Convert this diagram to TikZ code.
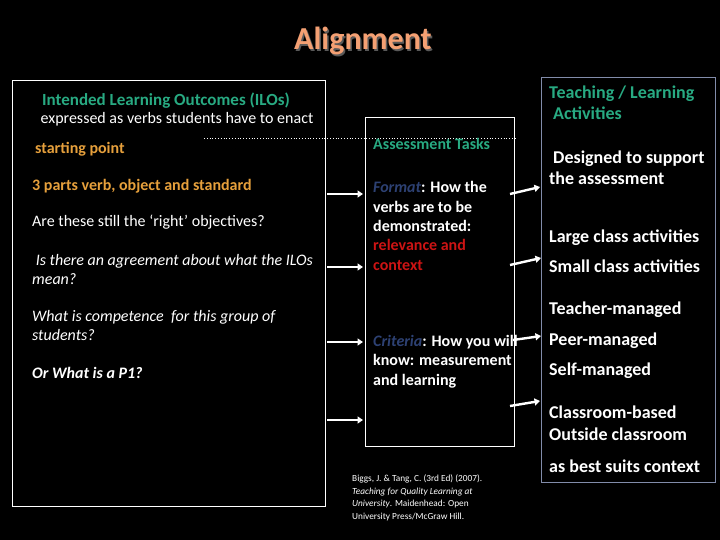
\documentclass[tikz,border=0pt]{standalone}
\usepackage{fontspec}
\setmainfont{Carlito}
\usetikzlibrary{arrows.meta}
\definecolor{titlec}{RGB}{244,160,115}
\definecolor{greenc}{RGB}{40,170,130}
\definecolor{orangec}{RGB}{230,160,60}
\definecolor{blued}{RGB}{45,65,115}
\definecolor{redc}{RGB}{205,20,20}
\definecolor{boxr}{RGB}{130,140,170}
\newcommand\myfsT{\fontsize{32}{36}\selectfont}
\newcommand\myfsH{\fontsize{17}{20}\selectfont}
\newcommand\myfsL{\fontsize{16}{19}\selectfont}
\newcommand\myfsR{\fontsize{18}{21}\selectfont}
\newcommand\myfsC{\fontsize{9.3}{11}\selectfont}
\begin{document}
\begin{tikzpicture}[x=1pt,y=-1pt,
  box/.style={draw=white, line width=1pt, anchor=north west, inner sep=0pt},
  txt/.style={anchor=base west, inner sep=0pt, text=white},
  ctxt/.style={anchor=base, inner sep=0pt, text=white},
  arr/.style={white, line width=2.4pt, -{Triangle[length=5.5pt,width=7pt]}},
]
\fill[black] (0,0) rectangle (720,540);
\useasboundingbox (0,0) rectangle (720,540);
% title
\node[ctxt, text=black!65!white] (titleshadow) at (364.5,51.5) {\myfsT\bfseries Alignment};
\node[ctxt, text=titlec] (title) at (363,50) {\myfsT\bfseries Alignment};
% boxes
\node[box, minimum width=313, minimum height=426] (ilo) at (12,80) {};
\node[box, minimum width=149, minimum height=329] (at) at (365,117) {};
\node[box, draw=boxr, minimum width=174, minimum height=405] (tla) at (541,77) {};
\coordinate (dotA) at (204,138);
\coordinate (dotB) at (515,138);
\draw[white, dotted, line width=0.8pt] (dotA) -- (dotB);
% left texts
\node[ctxt, text=greenc] (ilo1) at (166,106) {\myfsH\bfseries Intended Learning Outcomes (ILOs)};
\node[ctxt] (ilo2) at (177,124) {\myfsL expressed as verbs students have to enact};
\node[txt, text=orangec] (sp) at (35,154) {\myfsL\bfseries starting point};
\node[txt, text=orangec] (three) at (32,191) {\myfsL\bfseries 3 parts verb, object and standard};
\node[txt] (q1) at (32,226) {\myfsL Are these still the ‘right’ objectives?};
\node[txt] (q2a) at (32,265) {\myfsL\itshape\ Is there an agreement about what the ILOs};
\node[txt] (q2b) at (32,284) {\myfsL\itshape mean?};
\node[txt] (q3a) at (32,321) {\myfsL\itshape What is competence \ for this group of};
\node[txt] (q3b) at (32,340) {\myfsL\itshape students?};
\node[txt] (q4) at (32,378) {\myfsL\bfseries\itshape Or What is a P1?};
% middle texts
\node[txt, text=greenc] (ath) at (373,150) {\myfsL\bfseries Assessment Tasks};
\node[txt] (f1) at (373,193) {\myfsL\bfseries\textcolor{blued}{\itshape Format}: How the};
\node[txt] (f2) at (373,212) {\myfsL\bfseries verbs are to be};
\node[txt] (f3) at (373,231) {\myfsL\bfseries demonstrated:};
\node[txt, text=redc] (f4) at (373,250) {\myfsL\bfseries relevance and};
\node[txt, text=redc] (f5) at (373,270) {\myfsL\bfseries context};
\node[txt] (c1) at (373,346) {\myfsL\bfseries\textcolor{blued}{\itshape Criteria}: How you will};
\node[txt] (c2) at (373,365) {\myfsL\bfseries know: measurement};
\node[txt] (c3) at (373,385) {\myfsL\bfseries and learning};
% citation
\node[txt] (ref1) at (352,481) {\myfsC Biggs, J. \& Tang, C. (3rd Ed) (2007).};
\node[txt] (ref2) at (352,494) {\myfsC\itshape Teaching for Quality Learning at};
\node[txt] (ref3) at (352,506) {\myfsC\textit{University}. Maidenhead: Open};
\node[txt] (ref4) at (352,519) {\myfsC University Press/McGraw Hill.};
% right texts
\node[txt, text=greenc] (t1) at (549,99) {\myfsR\bfseries Teaching / Learning};
\node[txt, text=greenc] (t2) at (553,120) {\myfsR\bfseries Activities};
\node[txt] (d1) at (553,164) {\myfsR\bfseries Designed to support};
\node[txt] (d2) at (549,185) {\myfsR\bfseries the assessment};
\node[txt] (r1) at (549,242) {\myfsR\bfseries Large class activities};
\node[txt] (r2) at (549,272) {\myfsR\bfseries Small class activities};
\node[txt] (r3) at (549,314) {\myfsR\bfseries Teacher-managed};
\node[txt] (r4) at (549,345) {\myfsR\bfseries Peer-managed};
\node[txt] (r5) at (549,375) {\myfsR\bfseries Self-managed};
\node[txt] (r6) at (549,418) {\myfsR\bfseries Classroom-based};
\node[txt] (r7) at (549,440) {\myfsR\bfseries Outside classroom};
\node[txt] (r8) at (549,472) {\myfsR\bfseries as best suits context};
% arrow coordinates
\coordinate (la1) at (327,194); \coordinate (lb1) at (363,194);
\coordinate (la2) at (327,267); \coordinate (lb2) at (363,267);
\coordinate (la3) at (327,342); \coordinate (lb3) at (363,342);
\coordinate (la4) at (327,420); \coordinate (lb4) at (363,420);
\coordinate (ma1) at (510,194); \coordinate (mb1) at (540,187);
\coordinate (ma2) at (510,265); \coordinate (mb2) at (541,258);
\coordinate (ma3) at (513,340); \coordinate (mb3) at (541,336);
\coordinate (ma4) at (510,406); \coordinate (mb4) at (540,401);
\foreach \i in {1,2,3,4}{
  \draw[arr] (la\i) -- (lb\i);
  \draw[arr] (ma\i) -- (mb\i);
}
\end{tikzpicture}
\end{document}
